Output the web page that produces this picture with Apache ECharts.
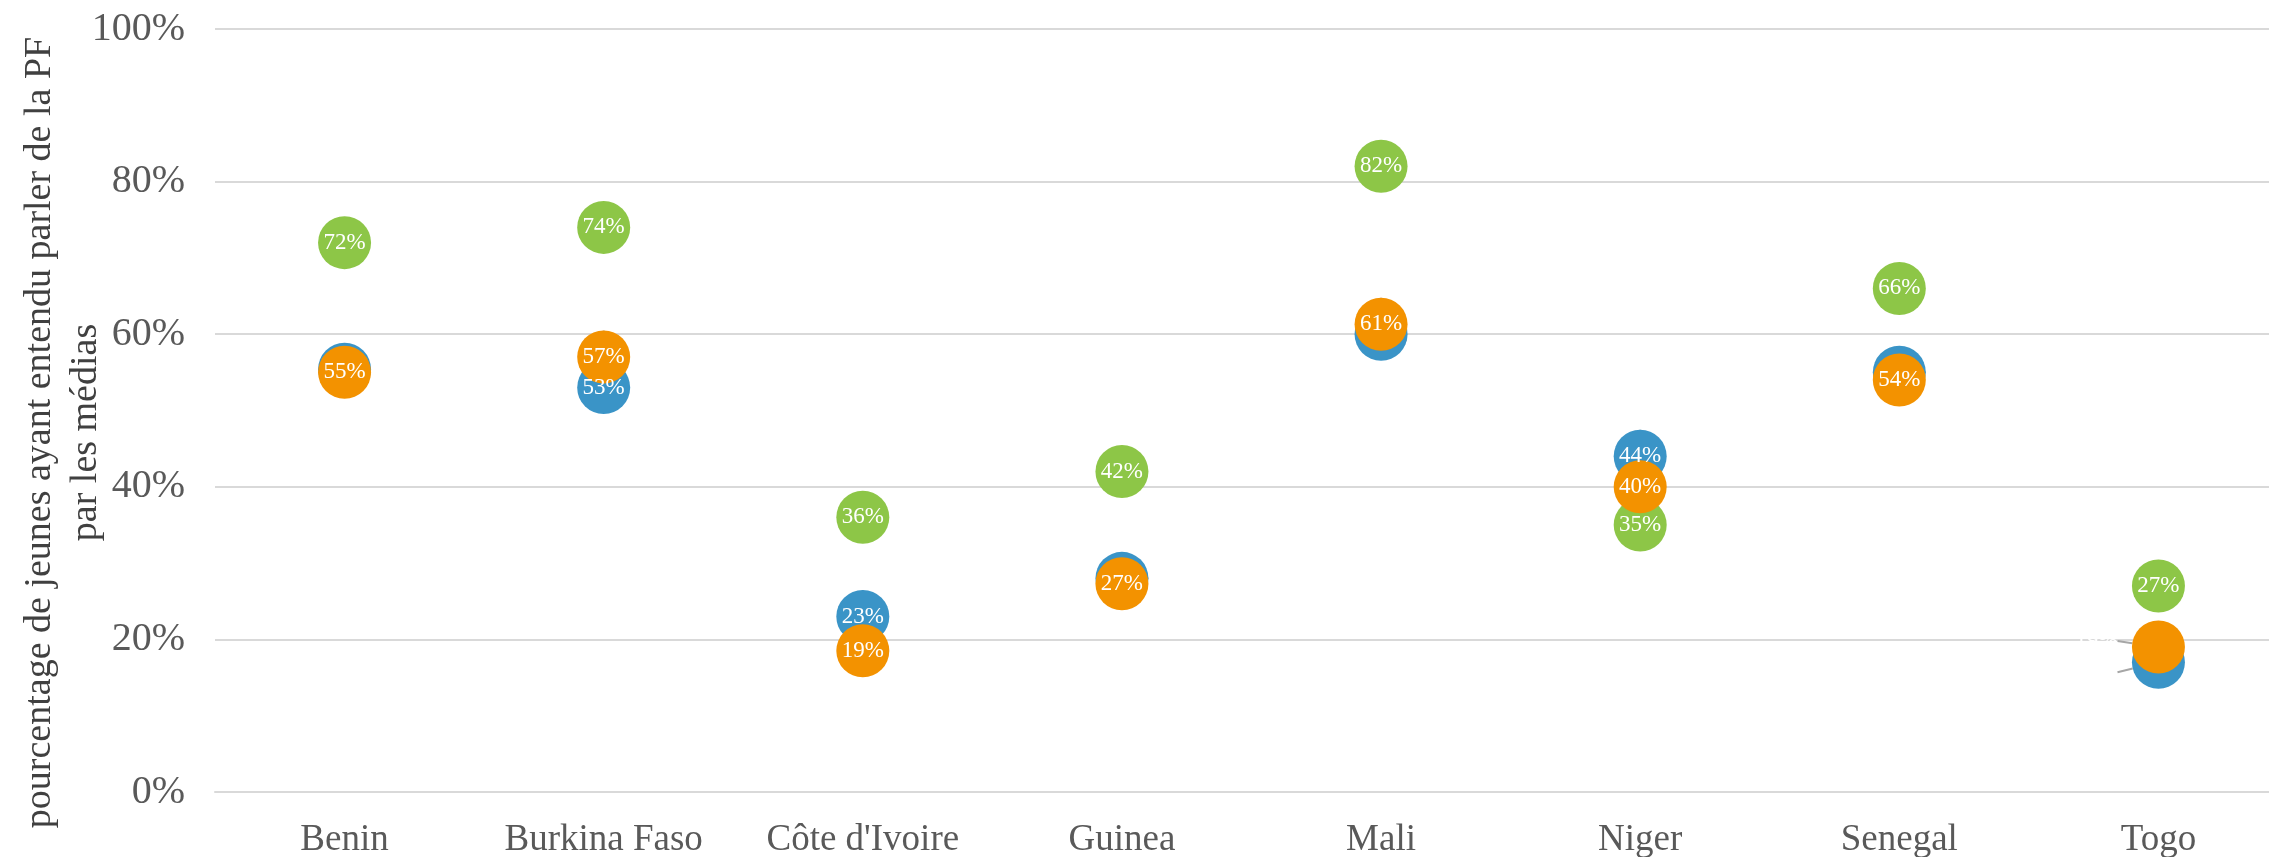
<!DOCTYPE html>
<html>
<head>
<meta charset="utf-8">
<script src="https://cdn.jsdelivr.net/npm/echarts@6/dist/echarts.min.js"></script>
<style>
html,body{margin:0;padding:0;background:#fff;}
#chart{width:2269px;height:857px;}
</style>
</head>
<body>
<div id="chart"></div>
<script>
const categories = ['Benin', 'Burkina Faso', "Côte d'Ivoire", 'Guinea', 'Mali', 'Niger', 'Senegal', 'Togo'];
const seriesGreen = [72, 74, 36, 42, 82, 35, 66, 27];
const seriesBlue = [55.4, 53, 23, 28, 60, 44, 55, 17];
const seriesOrange = [55, 57, 18.5, 27.3, 61.3, 40, 54, 19];
const yTicks = [0, 20, 40, 60, 80, 100];
const yAxisTitle = 'pourcentage de jeunes ayant entendu parler de la PF\npar les médias';

const FONT = '"Liberation Serif", "Times New Roman", serif';
const chart = echarts.init(document.getElementById('chart'));

function mkSeries(name, data, color, hideIdx, moved) {
  const s = {
    name: name,
    type: 'scatter',
    data: data,
    symbolSize: 53,
    z: 2,
    itemStyle: { color: color, opacity: 1 },
    label: {
      show: true,
      position: 'inside',
      color: '#ffffff',
      fontFamily: FONT,
      fontSize: 23,
      formatter: function (p) {
        if (hideIdx.indexOf(p.dataIndex) >= 0) return '';
        return Math.round(p.value) + '%';
      }
    },
    emphasis: { disabled: true }
  };
  if (moved) {
    s.labelLayout = function (p) {
      if (p.dataIndex === moved.idx) return { dx: moved.dx, dy: moved.dy };
      return {};
    };
    s.labelLine = { show: true, lineStyle: { color: '#a6a6a6', width: 2 } };
  }
  return s;
}

chart.setOption({
  animation: false,
  backgroundColor: '#ffffff',
  grid: { left: 215, right: -19, top: 29, bottom: 65, containLabel: false, outerBoundsMode: 'none' },
  xAxis: {
    type: 'category',
    data: categories,
    boundaryGap: true,
    axisLine: { show: true, lineStyle: { color: '#d9d9d9', width: 2 } },
    axisTick: { show: false },
    splitLine: { show: false },
    axisLabel: { color: '#595959', fontFamily: FONT, fontSize: 37, margin: 30 }
  },
  yAxis: {
    type: 'value',
    min: yTicks[0],
    max: yTicks[yTicks.length - 1],
    interval: 20,
    axisLine: { show: false },
    axisTick: { show: false },
    splitLine: { lineStyle: { color: '#d9d9d9', width: 2 } },
    axisLabel: { color: '#595959', fontFamily: FONT, fontSize: 40, margin: 30, formatter: '{value}%' },
    name: yAxisTitle,
    nameLocation: 'middle',
    nameRotate: 90,
    nameGap: 106,
    nameMoveOverlap: false,
    nameTextStyle: { color: '#404040', fontFamily: FONT, fontSize: 38, lineHeight: 46, padding: [0, 44, 0, 0] }
  },
  series: [
    mkSeries('Vert', seriesGreen, '#8dc647', [], null),
    mkSeries('Bleu', seriesBlue, '#3a94c7', [0, 3, 4, 6], { idx: 7, dx: -62, dy: 10 }),
    mkSeries('Orange', seriesOrange, '#f39200', [], { idx: 7, dx: -62, dy: -6 })
  ]
});
</script>
</body>
</html>
